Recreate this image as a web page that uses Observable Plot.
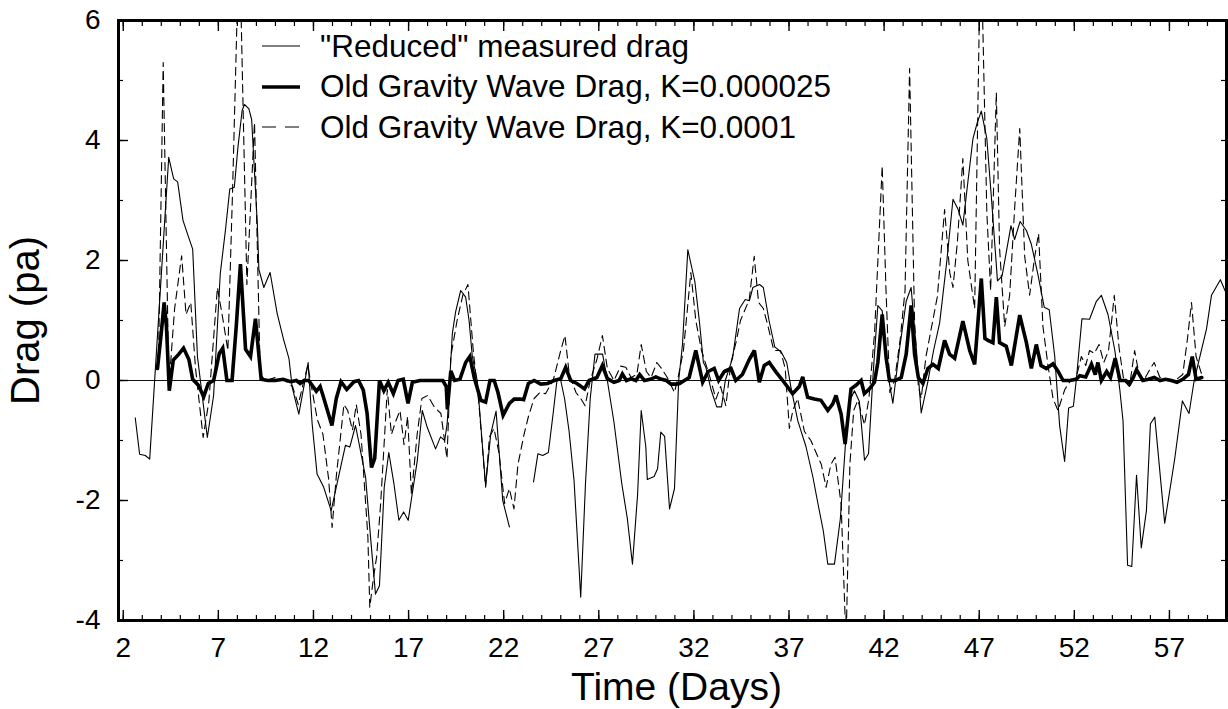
<!DOCTYPE html>
<html><head><meta charset="utf-8">
<script src="https://cdn.jsdelivr.net/npm/d3@7"></script>
<script src="https://cdn.jsdelivr.net/npm/@observablehq/plot@0.6"></script>
<style>
body{margin:0;background:#fff;}
#wrap{position:relative;width:1228px;height:709px;font-family:"Liberation Sans",Arial,Helvetica,sans-serif;}
#legend{position:absolute;left:262px;top:26px;}
.row{display:flex;align-items:center;height:40.5px;font-size:31.5px;color:#000;white-space:nowrap;}
.row svg{margin-right:20px;display:block;}
</style></head><body><div id="wrap"></div>
<script>
// ---- data ----
const seriesNames = ['"Reduced" measured drag', 'Old Gravity Wave Drag, K=0.000025', 'Old Gravity Wave Drag, K=0.0001'];
const xLabel = "Time (Days)";
const yLabel = "Drag (pa)";
const xMajorTicks = [2, 7, 12, 17, 22, 27, 32, 37, 42, 47, 52, 57];
const xMinorTicks = [2,3,4,5,6,7,8,9,10,11,12,13,14,15,16,17,18,19,20,21,22,23,24,25,26,27,28,29,30,31,32,33,34,35,36,37,38,39,40,41,42,43,44,45,46,47,48,49,50,51,52,53,54,55,56,57,58,59,60];
const yMajorTicks = [-4, -2, 0, 2, 4, 6];
const yMinorTicks = [-4, -3, -2, -1, 0, 1, 2, 3, 4, 5, 6];

// "Reduced" measured drag (null = gap in record)
const measuredDays = [2.63,2.86,3.16,3.39,4.39,4.65,4.86,5.14,5.38,5.65,5.9,6.42,6.75,7.1,7.37,7.6,7.84,8.03,8.25,8.37,8.6,8.75,9.05,9.13,9.39,9.72,10.09,10.44,10.71,10.88,11.05,11.23,11.49,11.72,11.93,12.19,12.54,12.93,13.24,13.68,13.91,14.21,14.47,14.74,15.0,15.26,15.47,15.72,15.96,16.23,16.49,16.74,16.98,17.46,17.72,17.98,18.42,18.68,18.9,19.03,19.21,19.3,19.47,19.74,20.0,20.18,20.35,20.61,21.05,21.32,21.6,21.95,22.3,22.9,
23.57,23.8,24.05,24.35,24.6,24.8,25.0,25.2,25.44,25.7,26.05,26.3,26.55,26.8,27.2,27.45,27.8,28.2,28.5,28.77,29.04,29.23,29.47,29.55,29.91,30.09,30.26,30.46,30.72,30.98,31.2,31.4,31.68,32.05,32.3,32.5,32.63,32.9,33.2,33.45,33.65,34.03,34.4,34.7,34.92,35.1,35.45,35.65,35.95,36.25,36.6,36.88,37.1,37.46,37.89,38.25,38.55,38.8,39.04,39.39,39.7,39.98,40.18,40.44,40.7,40.97,41.18,41.4,41.67,41.9,42.15,42.46,42.8,43.16,43.42,43.7,43.95,44.3,44.6,44.92,45.3,45.62,45.88,46.14,46.4,46.67,46.9,47.11,47.4,47.64,47.96,48.2,48.67,48.86,49.15,49.48,49.74,50.09,50.42,50.68,50.97,51.23,51.49,51.7,51.95,52.1,52.4,52.8,53.16,53.42,53.77,54.13,54.39,54.56,54.8,55.02,55.27,55.52,55.79,56.0,56.23,56.75,57.28,57.68,58.03,58.3,58.95,59.21,59.68,60.0];
const measuredDrag = [-0.62,-1.23,-1.25,-1.31,3.72,3.36,3.31,2.67,2.44,2.19,0.4,-0.95,-0.25,1.78,2.5,3.19,3.22,3.89,4.5,4.6,4.53,4.35,2.6,1.85,1.55,1.8,1.12,0.67,0.37,-0.11,-0.33,-0.56,-0.11,0.3,-0.72,-1.56,-1.78,-2.17,-1.72,-1.08,-1.11,-0.75,-1.17,-1.61,-2.61,-3.56,-3.42,-1.78,-1.2,-1.72,-2.33,-2.19,-2.33,-1.33,-0.5,-0.78,-1.14,-0.94,-1.0,-0.72,0.28,0.78,1.14,1.5,1.39,1.0,0.4,0.0,-1.75,-0.89,-0.51,-2.0,-2.44,null,
-1.69,-1.22,-1.25,-1.2,-0.55,0.0,0.0,-0.3,-0.85,-1.67,-3.61,-1.72,-0.3,0.44,0.44,0.0,-0.7,-1.7,-2.3,-3.06,-1.9,-0.5,-1.1,-1.65,-1.6,-1.47,-0.86,-0.93,-2.14,-1.8,0.0,0.6,2.18,1.65,0.95,0.3,0.22,-0.15,-0.44,-0.44,0.0,0.37,1.2,1.35,1.33,1.55,1.6,1.55,1.0,0.56,0.47,0.3,-0.11,-0.67,-1.1,-1.6,-2.1,-2.5,-3.06,-3.06,-2.3,-1.0,-0.35,-0.17,-0.35,-1.33,-1.22,0.0,1.25,1.16,0.2,-0.38,0.5,1.32,1.55,0.5,-0.54,-0.02,0.5,0.96,2.0,3.02,2.86,2.59,3.3,4.03,4.3,4.49,4.03,3.05,1.66,1.74,2.58,2.35,2.65,2.5,2.27,1.76,1.22,1.18,0.4,-0.76,-1.35,-0.46,-0.43,0.0,1.03,1.02,1.32,1.42,1.1,0.5,-0.15,-0.67,-3.08,-3.1,-1.58,-2.79,-2.17,-0.72,-0.61,-2.38,-1.3,-0.34,-0.55,0.0,0.86,1.42,1.68,1.44];

// Old Gravity Wave Drag, K=0.000025 (thick)
const kSmallDays = [3.8,4.0,4.15,4.27,4.42,4.63,4.92,5.17,5.45,5.65,5.95,6.23,6.47,6.75,7.05,7.23,7.45,7.72,7.94,8.16,8.43,8.69,8.95,9.25,9.6,10.0,10.4,10.8,11.1,11.3,11.5,11.75,11.93,12.15,12.35,12.5,12.97,13.2,13.45,13.75,14.13,14.37,14.62,14.82,15.05,15.22,15.47,15.7,15.93,16.2,16.45,16.72,16.97,17.2,17.6,18.0,18.4,18.8,18.98,19.04,19.22,19.42,19.7,20.0,20.22,20.45,20.8,21.05,21.28,21.5,21.7,21.97,22.3,22.55,22.87,23.05,23.3,23.6,23.95,24.3,24.65,25.0,25.26,25.52,25.85,26.25,26.49,26.9,27.19,27.45,27.8,28.07,28.24,28.45,28.7,28.95,29.15,29.4,29.7,30.0,30.3,30.55,30.8,31.05,31.25,31.5,31.75,32.1,32.46,32.75,33.07,33.3,33.6,33.95,34.2,34.55,34.91,35.18,35.44,35.7,35.96,36.32,36.67,37.19,37.54,37.72,37.98,38.33,38.68,39.04,39.3,39.47,39.74,39.95,40.26,40.52,40.79,40.96,41.23,41.49,41.67,41.9,42.11,42.28,42.6,42.9,43.16,43.42,43.6,43.8,44.04,44.3,44.57,44.85,45.18,45.44,45.71,46.14,46.5,46.76,47.11,47.3,47.46,47.72,47.9,48.07,48.42,48.69,49.13,49.48,49.74,50.0,50.25,50.53,50.88,51.15,51.41,51.75,52.1,52.28,52.6,52.9,53.1,53.24,53.42,53.7,53.9,54.15,54.4,54.7,54.92,55.1,55.27,55.6,55.9,56.2,56.5,56.8,57.1,57.4,57.7,58.0,58.2,58.4,58.7];
const kSmallDrag = [0.2,0.8,1.3,0.9,-0.17,0.34,0.44,0.54,0.35,0.02,-0.08,-0.27,-0.05,0.0,0.45,0.54,0.0,0.0,0.9,1.94,0.52,0.4,1.03,0.02,0.0,0.0,0.02,-0.02,0.0,-0.05,0.0,0.0,-0.08,-0.18,-0.1,-0.25,-0.75,-0.3,-0.02,-0.15,-0.02,0.0,-0.16,-0.55,-1.45,-1.3,0.0,-0.17,-0.03,-0.22,0.0,0.02,-0.38,-0.03,0.0,0.0,0.0,0.0,-0.1,-0.48,0.16,0.0,0.02,0.3,0.4,0.05,-0.33,-0.36,0.0,0.0,-0.2,-0.58,-0.38,-0.31,-0.31,-0.32,-0.05,0.0,-0.06,-0.05,0.0,0.03,0.22,0.0,-0.05,-0.14,0.0,0.05,0.25,0.03,-0.03,0.0,0.11,0.0,0.03,0.0,0.1,0.0,0.02,0.06,0.02,0.0,-0.06,-0.06,-0.05,0.0,0.05,0.5,-0.03,0.15,0.2,0.0,0.15,0.2,0.0,0.1,0.35,0.5,-0.03,0.25,0.3,0.14,0.0,-0.22,-0.1,0.06,-0.28,-0.31,-0.33,-0.5,-0.39,-0.25,-0.56,-1.06,-0.14,-0.08,0.0,-0.22,-0.14,-0.03,0.3,1.1,0.37,0.0,0.0,0.05,0.44,1.25,0.44,0.05,-0.05,0.2,0.27,0.2,0.67,0.44,0.37,0.99,0.5,0.27,1.7,0.7,0.67,0.63,1.39,0.63,0.57,0.25,1.09,0.63,0.2,0.6,0.25,0.2,0.28,0.15,0.0,0.0,0.02,0.08,0.06,0.27,0.1,0.3,0.0,0.15,0.05,0.37,0.0,0.0,-0.05,0.05,0.18,0.0,0.02,0.05,0.0,0.02,0.0,-0.03,0.02,0.1,0.4,0.02,0.05];

// Old Gravity Wave Drag, K=0.0001 (dashed)
const kLargeDays = [3.85,4.1,4.4,4.7,5.07,5.3,5.55,5.8,6.2,6.5,6.95,7.25,7.5,7.75,8.1,8.5,8.9,9.2,9.5,10.0,10.5,10.9,11.2,11.5,11.7,11.95,12.2,12.5,12.8,12.98,13.2,13.6,13.8,14.05,14.25,14.5,14.86,14.96,15.15,15.32,15.53,15.88,16.1,16.3,16.55,16.76,16.95,17.15,17.45,17.7,18.0,18.35,18.7,19.02,19.22,19.55,19.85,20.12,20.4,20.7,21.05,21.25,21.49,21.75,22.05,22.3,22.54,22.75,23.07,23.3,23.6,23.9,24.2,24.6,25.0,25.22,25.45,25.8,26.05,26.28,26.55,26.9,27.19,27.45,27.8,28.15,28.42,28.7,29.0,29.23,29.5,29.75,30.05,30.3,30.6,30.98,31.2,31.45,31.84,32.1,32.4,32.8,33.16,33.4,33.68,33.95,34.21,34.45,34.91,35.17,35.4,35.65,35.9,36.2,36.55,36.8,37.02,37.2,37.45,37.81,38.15,38.42,38.7,38.95,39.2,39.42,39.74,40.0,40.2,40.4,40.62,40.97,41.2,41.5,41.9,42.1,42.3,42.55,42.85,43.1,43.34,43.6,43.8,43.95,44.2,44.5,44.8,45.18,45.45,45.62,45.85,46.14,46.4,46.76,47.08,47.4,47.6,47.9,48.07,48.34,48.6,48.86,49.13,49.39,49.65,49.92,50.12,50.35,50.62,50.88,51.14,51.5,51.8,52.1,52.37,52.6,52.8,53.05,53.3,53.55,53.8,54.1,54.35,54.6,54.9,55.17,55.4,55.65,56.0,56.2,56.5,56.9,57.3,57.7,57.95,58.16,58.4,58.7];
const kLargeDrag = [0.25,5.3,-0.1,1.2,2.08,1.1,1.3,0.2,-0.95,-0.35,1.55,1.0,0.5,3.2,7.5,1.6,4.3,0.1,0.0,0.05,0.0,-0.1,-0.4,0.0,0.25,-0.2,-0.65,-0.9,-1.65,-2.45,-1.6,-0.4,-0.5,-0.83,-0.4,-0.9,-2.6,-3.78,-3.3,-2.94,-2.06,-0.15,-0.9,-0.7,-0.5,-1.07,-0.6,-1.9,-0.9,-0.3,-0.25,-0.44,-0.55,-1.3,0.4,1.0,1.42,1.6,0.5,-0.4,-1.78,-0.94,-0.8,-1.2,-2.05,-1.8,-2.14,-1.4,-0.9,-0.6,-0.3,-0.2,-0.22,0.0,0.5,0.75,0.1,-0.2,-0.3,-0.42,0.0,0.35,0.75,0.2,0.0,0.24,0.22,0.05,0.1,0.6,0.15,0.05,0.3,0.2,0.05,-0.2,0.1,0.5,1.8,1.0,0.5,0.1,-0.31,-0.1,-0.42,0.3,0.63,1.0,1.35,2.07,1.3,1.2,0.9,0.5,0.5,0.2,-0.8,-0.5,-0.3,-0.85,-1.0,-1.2,-1.4,-1.78,-1.4,-1.28,-2.06,-4.4,-1.4,-0.5,-0.33,-0.74,-0.3,0.8,3.58,1.5,-0.2,0.0,0.7,1.5,5.2,1.0,-0.1,-0.3,0.4,0.9,1.4,2.85,1.8,1.55,2.3,3.7,2.0,1.2,7.5,2.8,1.5,4.8,2.2,0.9,1.42,2.86,4.2,2.07,1.42,2.07,2.45,0.9,0.24,-0.3,-0.5,-0.15,0.0,0.05,0.4,0.25,0.5,0.45,0.6,0.3,0.5,1.42,0.55,0.0,-0.1,0.5,0.1,0.0,0.2,0.3,0.05,0.0,0.0,0.1,0.7,1.3,0.4,0.1];

// ---- tables for Plot ----
const toRows = (days, vals) => days.map((d, i) => ({day: d, drag: vals[i]}));
const measured = toRows(measuredDays, measuredDrag);
const kSmall = toRows(kSmallDays, kSmallDrag);
const kLarge = toRows(kLargeDays, kLargeDrag);

const FONT = '"Liberation Sans", Arial, Helvetica, sans-serif';
const intFmt = d => String(d);

const chart = Plot.plot({
  width: 1228,
  height: 709,
  marginLeft: 118,
  marginRight: 2,
  marginTop: 20,
  marginBottom: 89,
  x: {domain: [1.75, 60]},
  y: {domain: [-4, 6]},
  style: {fontFamily: FONT, background: "white", color: "black"},
  marks: [
    Plot.ruleY([0], {stroke: "#111", strokeWidth: 1}),
    Plot.line(measured, {x: "day", y: "drag", stroke: "black", strokeWidth: 1.1, clip: true}),
    Plot.line(kLarge, {x: "day", y: "drag", stroke: "black", strokeWidth: 1.1, strokeDasharray: "8,5", clip: true}),
    Plot.line(kSmall, {x: "day", y: "drag", stroke: "black", strokeWidth: 3.6, strokeLinejoin: "miter", strokeMiterlimit: 3, clip: true}),
    // tick labels
    Plot.axisX(xMajorTicks, {anchor: "bottom", tickSize: 0, tickPadding: 17, fontSize: 28, tickFormat: intFmt, label: null}),
    Plot.axisY(yMajorTicks, {anchor: "left", tickSize: 0, tickPadding: 18, fontSize: 28, tickFormat: intFmt, label: null}),
    // inward ticks
    Plot.axisX(xMajorTicks, {anchor: "bottom", tickSize: -10, fill: "none", strokeWidth: 1.4}),
    Plot.axisX(xMinorTicks, {anchor: "bottom", tickSize: -5, fill: "none", strokeWidth: 1.2}),
    Plot.axisX(xMajorTicks, {anchor: "top", tickSize: -10, fill: "none", strokeWidth: 1.4}),
    Plot.axisX(xMinorTicks, {anchor: "top", tickSize: -5, fill: "none", strokeWidth: 1.2}),
    Plot.axisY(yMajorTicks, {anchor: "left", tickSize: -10, fill: "none", strokeWidth: 1.4}),
    Plot.axisY(yMinorTicks, {anchor: "left", tickSize: -5, fill: "none", strokeWidth: 1.2}),
    Plot.axisY(yMinorTicks, {anchor: "right", tickSize: -6, fill: "none", strokeWidth: 1.2}),
    // axis titles
    Plot.text([xLabel], {text: d => d, frameAnchor: "bottom", dy: 67, dx: 4, fontSize: 39, lineAnchor: "middle", fill: "black"}),
    Plot.text([yLabel], {text: d => d, frameAnchor: "left", dx: -92, rotate: -90, fontSize: 40, textAnchor: "middle", lineAnchor: "middle", fill: "black"}),
    Plot.frame({stroke: "black", strokeWidth: 3})
  ]
});

const wrap = document.getElementById("wrap");
wrap.appendChild(chart);

// legend inside the plot area (top)
const legendStyles = [
  {w: 1.1, dash: null},
  {w: 3.6, dash: null},
  {w: 1.1, dash: "14,9"}
];
const legend = document.createElement("div");
legend.id = "legend";
[0, 1, 2].forEach(i => {
  const row = document.createElement("div");
  row.className = "row";
  const s = legendStyles[i];
  row.innerHTML = `<svg width="38" height="10"><line x1="0" x2="38" y1="5" y2="5" stroke="black" stroke-width="${s.w}" ${s.dash ? `stroke-dasharray="${s.dash}"` : ""}/></svg><span>${seriesNames[i].replace(/"/g, "&quot;")}</span>`;
  legend.appendChild(row);
});
wrap.appendChild(legend);
</script></body></html>
